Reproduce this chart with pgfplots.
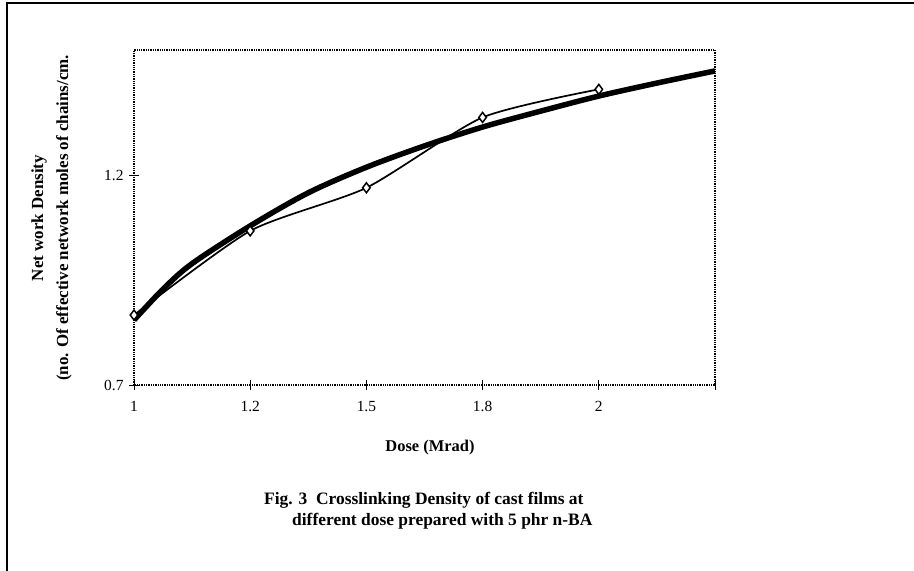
\documentclass[border=0pt]{standalone}
\usepackage{fontspec}
\setmainfont{Liberation Serif}
\usepackage{pgfplots}
\pgfplotsset{compat=1.18}

\begin{document}
\begin{tikzpicture}[x=1bp,y=1bp]
\path[use as bounding box] (0,0) rectangle (914,571);
% page frame of the scan
\draw[line width=1.5bp] (7,0) -- (7,568) -- (914,568);

\begin{axis}[
  at={(134bp,186bp)}, anchor=south west,
  scale only axis, width=581bp, height=335bp,
  xmin=0, xmax=5, ymin=0.7, ymax=1.5,
  xtick={0,1,2,3,4,5},
  xticklabels={1,1.2,1.5,1.8,2,{}},
  ytick={0.7,1.2},
  yticklabels={0.7,1.2},
  tick align=center,
  major tick length=10bp,
  axis line style={densely dotted, line width=1.3bp},
  tick style={black, solid, line width=0.9bp},
  xtick pos=bottom, ytick pos=left,
  tick label style={font=\fontsize{15.5}{17}\selectfont},
  xticklabel style={yshift=-8bp},
  yticklabel style={xshift=-2bp},
  clip=false,
]
% logarithmic trend line
\addplot[black, line width=5.5bp, smooth] coordinates {
  (0,0.855) (0.25,0.929) (0.5,0.990) (1,1.080) (1.5,1.159)
  (2,1.220) (2.5,1.271) (3,1.316) (3.5,1.354) (4,1.390)
  (4.5,1.421) (5,1.450)
};
% measured points
\addplot[black, line width=1.7bp, smooth, tension=0.4,
  mark=diamond*, mark size=5bp,
  mark options={fill=white, draw=black, solid, line width=1.5bp}]
  coordinates {
  (0,0.867) (1,1.068) (2,1.171) (3,1.339) (4,1.406)
};
\end{axis}

\node[rotate=90, font=\bfseries\fontsize{17}{19}\selectfont] at (39,353) {Net work Density};
\node[rotate=90, font=\bfseries\fontsize{17}{19}\selectfont] at (64,353) {(no. Of effective network moles of chains/cm.};
\node[font=\bfseries\fontsize{16.5}{19}\selectfont] at (430,123) {Dose (Mrad)};
\node[anchor=west, font=\bfseries\fontsize{17.5}{20}\selectfont, inner sep=0] at (264,71) {Fig. 3\ \ Crosslinking Density of cast films at};
\node[anchor=west, font=\bfseries\fontsize{17.5}{20}\selectfont, inner sep=0] at (292,50) {different dose prepared with 5 phr n-BA};
\end{tikzpicture}
\end{document}
